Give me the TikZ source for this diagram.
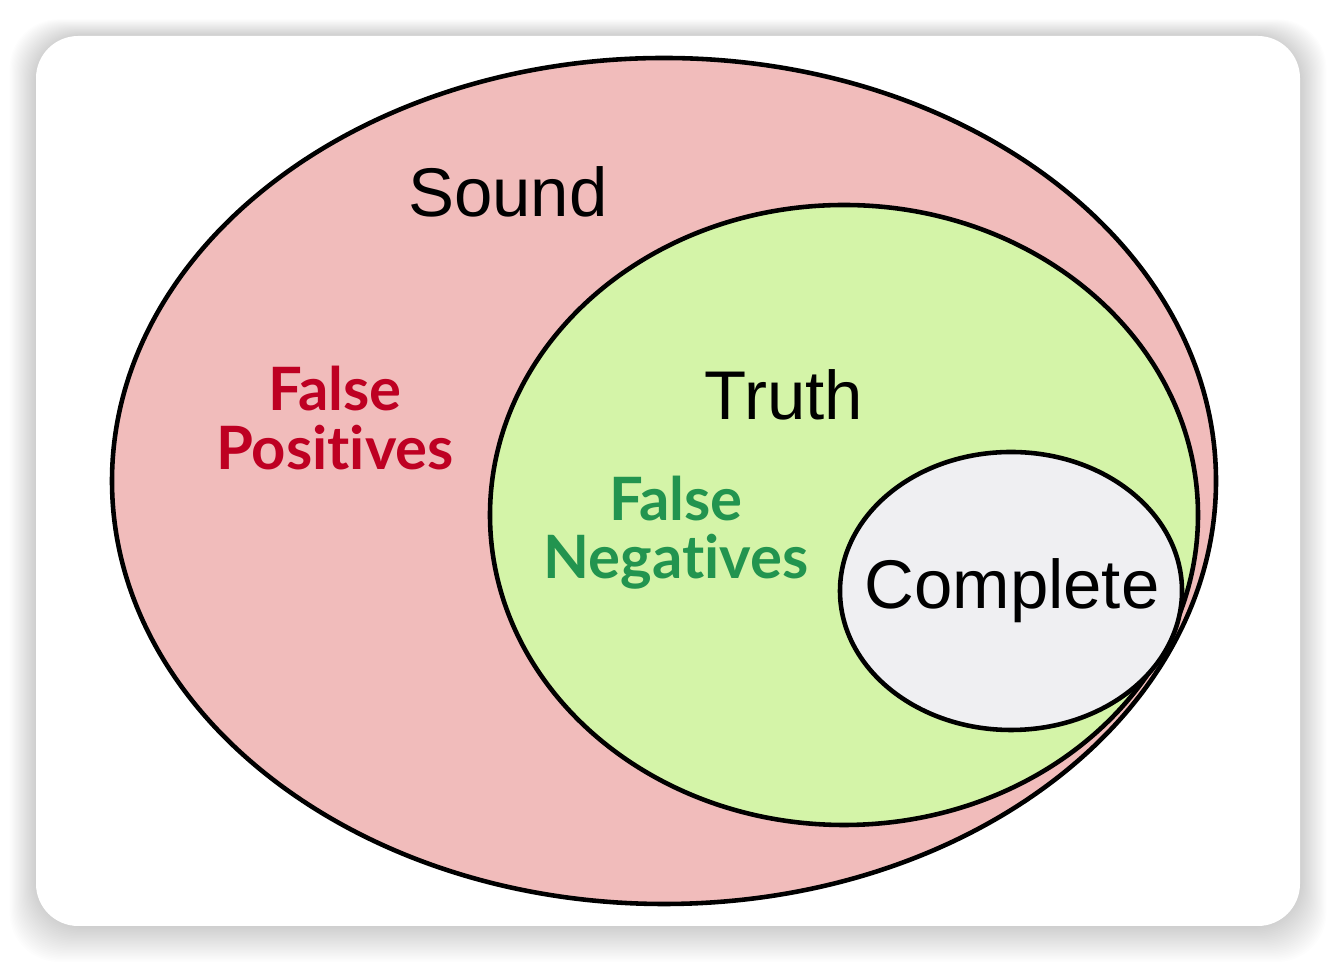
\documentclass[tikz,border=0pt]{standalone}
\usepackage{fontspec}
\setmainfont{Liberation Sans}
\newfontfamily\handfont[Ligatures=NoCommon]{Lato}
\usepackage{tikz}
\usetikzlibrary{positioning}

\definecolor{soundpink}{HTML}{F1BCBB}
\definecolor{truthgreen}{HTML}{D4F4A8}
\definecolor{completegray}{HTML}{EFEFF2}
\definecolor{fpred}{HTML}{BE0022}
\definecolor{fngreen}{HTML}{22944F}

\begin{document}
\begin{tikzpicture}[
    x=0.01cm, y=-0.01cm,
    region/.style={draw=black, line width=1.3pt},
    setlabel/.style={inner sep=0pt, font=\fontsize{19.6}{24}\selectfont},
    errlabel/.style={inner sep=0pt, align=center,
      font=\handfont\bfseries\fontsize{17}{16.6}\selectfont}
  ]
    \useasboundingbox (0,0) rectangle (1336,962);

    % ── Card with soft shadow ────────────────────────────────
    \foreach \i in {1,...,24}
      \fill[black, opacity=0.008, rounded corners=14]
        (36-1.1*\i,36-0.7*\i) rectangle (1300+1.1*\i,926+1.5*\i);
    \fill[white, rounded corners=12] (36,36) rectangle (1300,926);

    % ── Nested regions ───────────────────────────────────────
    \draw[region, fill=soundpink]    (664,481)  ellipse [x radius=552, y radius=423];
    \draw[region, fill=truthgreen]   (844,515)  ellipse [x radius=354, y radius=310];
    \draw[region, fill=completegray] (1011,591) ellipse [x radius=171, y radius=139];

    % ── Labels ───────────────────────────────────────────────
    \node[setlabel] (sound)    at (508,192)  {Sound};
    \node[setlabel] (truth)    at (784,395)  {Truth};
    \node[setlabel] (complete) at (1012,591) {Complete};

    \node[errlabel, text=fpred]   (falsepos) at (335,418) {False\\Positives};
    \node[errlabel, text=fngreen] (falseneg) at (676,533) {False\\Negatives};
  \end{tikzpicture}
\end{document}
